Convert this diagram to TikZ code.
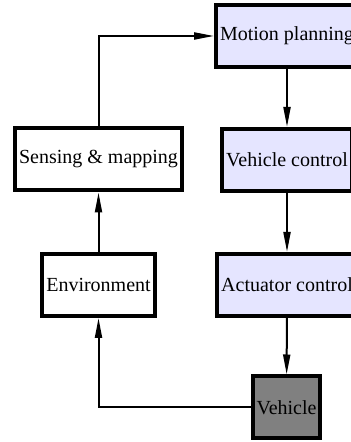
\documentclass[tikz,border=0pt]{standalone}
\usepackage{fontspec}
\setmainfont{Liberation Serif}
\usetikzlibrary{arrows.meta}

\begin{document}
\begin{tikzpicture}[x=1pt, y=1pt, >={Triangle[length=10pt,width=3.5pt]},
    blk/.style={draw, line width=2pt, minimum height=31pt, inner xsep=2pt, fill=white},
    ctl/.style={blk, fill=blue!10},
    link/.style={->, line width=1pt}]
    \useasboundingbox (0,0) rectangle (175,221);
    \node[ctl] (plan) at (143.5,203) {Motion planning};
    \node[ctl] (vctrl) at (143.5,141) {Vehicle control};
    \node[ctl] (act) at (143.5,78.5) {Actuator control};
    \node[blk, fill=gray] (veh) at (143.25,17.25) {Vehicle};
    \node[blk] (sense) at (49.25,141.25) {Sensing \& mapping};
    \node[blk] (env) at (49.25,78.5) {Environment};
    \draw[link] (sense.north) |- (plan.west);
    \draw[link] (plan) -- (vctrl);
    \draw[link] (vctrl) -- (act);
    \draw[link] (act) -- (veh);
    \draw[link] (veh.west) -| (env.south);
    \draw[link] (env) -- (sense);
\end{tikzpicture}
\end{document}
